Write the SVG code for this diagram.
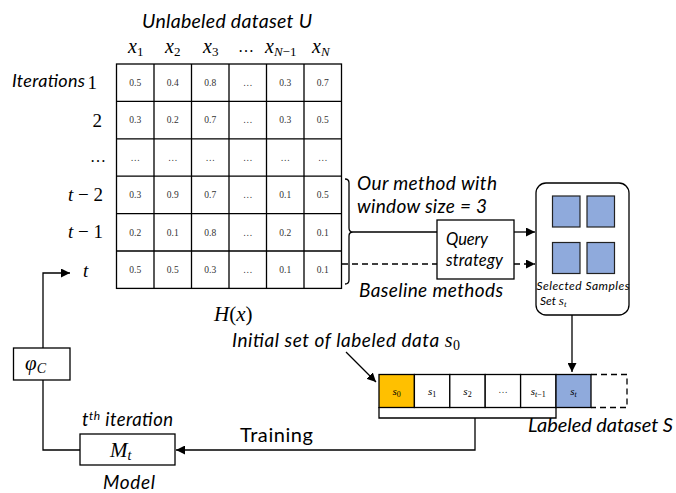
<svg xmlns="http://www.w3.org/2000/svg" width="676" height="493" viewBox="0 0 676 493">
<defs>
<style>
.ln{stroke:#000;stroke-width:1.3;fill:none}
.dash{stroke:#000;stroke-width:1.3;fill:none;stroke-dasharray:6 4}
.box{stroke:#000;stroke-width:1.3;fill:#fff}
.cell{stroke:#000;stroke-width:1.3;fill:#fff}
.v{font-family:"Liberation Serif",serif;font-size:9.5px;text-anchor:middle;fill:#333}
.m{font-family:"Liberation Serif",serif;font-style:italic;fill:#000}
.mr{font-family:"Liberation Serif",serif;fill:#000}
.it{font-family:Lato,"Liberation Sans",sans-serif;font-style:italic;fill:#000}
.sv{font-family:"Liberation Serif",serif;font-style:italic;font-size:11px;text-anchor:middle;fill:#000}
</style>
<marker id="ah" viewBox="0 0 10 10" refX="10" refY="5" markerWidth="9" markerHeight="9" markerUnits="userSpaceOnUse" orient="auto">
<path d="M0,0 L10,5 L0,10 z" fill="#000"/>
</marker>
</defs>

<g id="title">
<text class="it" x="142" y="28" font-size="19.5" textLength="170" lengthAdjust="spacing">Unlabeled dataset U</text>
</g>

<g id="headers" class="m" font-size="20">
<text x="128" y="53">x<tspan font-style="normal" font-size="13" dy="3">1</tspan></text>
<text x="165" y="53">x<tspan font-style="normal" font-size="13" dy="3">2</tspan></text>
<text x="203" y="53">x<tspan font-style="normal" font-size="13" dy="3">3</tspan></text>
<text x="238" y="52" font-style="normal" font-size="16">…</text>
<text x="265" y="53">x<tspan font-size="13" dy="3">N</tspan><tspan font-style="normal" font-size="13">−1</tspan></text>
<text x="312" y="53">x<tspan font-size="13" dy="3">N</tspan></text>
</g>

<g id="rowlabels">
<text class="it" x="12" y="87" font-size="18" textLength="73" lengthAdjust="spacing">Iterations</text>
<text class="mr" x="97" y="89" text-anchor="end" font-size="19">1</text>
<text class="mr" x="102" y="127" text-anchor="end" font-size="19">2</text>
<text class="mr" x="106" y="162" text-anchor="end" font-size="16">…</text>
<text class="m" x="103" y="201" text-anchor="end" font-size="19">t <tspan font-style="normal">− 2</tspan></text>
<text class="m" x="103" y="238" text-anchor="end" font-size="19">t <tspan font-style="normal">− 1</tspan></text>
<text class="m" x="83" y="277" font-size="19">t</text>
</g>

<g id="table">
<rect class="cell" x="116.5" y="64" width="225" height="224.4"/>
<path class="ln" d="M154,64V288.4M191.5,64V288.4M229,64V288.4M266.5,64V288.4M304,64V288.4M116.5,101.4H341.5M116.5,138.8H341.5M116.5,176.2H341.5M116.5,213.6H341.5M116.5,251H341.5"/>
<g class="v">
<text x="135.2" y="86">0.5</text><text x="172.7" y="86">0.4</text><text x="210.2" y="86">0.8</text><text x="247.7" y="86">…</text><text x="285.2" y="86">0.3</text><text x="322.7" y="86">0.7</text>
<text x="135.2" y="123.4">0.3</text><text x="172.7" y="123.4">0.2</text><text x="210.2" y="123.4">0.7</text><text x="247.7" y="123.4">…</text><text x="285.2" y="123.4">0.3</text><text x="322.7" y="123.4">0.5</text>
<text x="135.2" y="160.8">…</text><text x="172.7" y="160.8">…</text><text x="210.2" y="160.8">…</text><text x="247.7" y="160.8">…</text><text x="285.2" y="160.8">…</text><text x="322.7" y="160.8">…</text>
<text x="135.2" y="198.2">0.3</text><text x="172.7" y="198.2">0.9</text><text x="210.2" y="198.2">0.7</text><text x="247.7" y="198.2">…</text><text x="285.2" y="198.2">0.1</text><text x="322.7" y="198.2">0.5</text>
<text x="135.2" y="235.6">0.2</text><text x="172.7" y="235.6">0.1</text><text x="210.2" y="235.6">0.8</text><text x="247.7" y="235.6">…</text><text x="285.2" y="235.6">0.2</text><text x="322.7" y="235.6">0.1</text>
<text x="135.2" y="273">0.5</text><text x="172.7" y="273">0.5</text><text x="210.2" y="273">0.3</text><text x="247.7" y="273">…</text><text x="285.2" y="273">0.1</text><text x="322.7" y="273">0.1</text>
</g>
</g>

<g id="hx">
<text class="m" x="214" y="321" font-size="21">H<tspan font-style="normal">(</tspan>x<tspan font-style="normal">)</tspan></text>
</g>

<g id="connectors">
<path class="ln" d="M345,179 Q349,179 349,183 L349,228 Q349,232 353,232 Q349,232 349,236 L349,280 Q349,284 345,284"/>
<path class="ln" d="M353,232 H437"/>
<path class="ln" d="M514,232 H535" marker-end="url(#ah)"/>
<path class="dash" d="M342,264 H437"/>
<path class="dash" d="M514,264 H535" marker-end="url(#ah)"/>
<path class="ln" d="M572,315 V372" marker-end="url(#ah)"/>
<path class="ln" d="M346,352 L376,382" marker-end="url(#ah)"/>
<path class="ln" d="M379,407 V418 H556 V407 M475,418 V450 H176" marker-end="url(#ah)"/>
<path class="ln" d="M43,380 V450 H80"/>
<path class="ln" d="M43,348 V273 H70" marker-end="url(#ah)"/>
</g>

<g id="labels">
<text class="it" x="357" y="190" font-size="19" textLength="140" lengthAdjust="spacing">Our method with</text>
<text class="it" x="357" y="213" font-size="19" textLength="130" lengthAdjust="spacing">window size = 3</text>
<text class="it" x="359" y="297" font-size="19" textLength="144" lengthAdjust="spacing">Baseline methods</text>
</g>

<g id="query">
<rect class="box" x="437" y="220" width="77" height="59"/>
<text class="it" x="446" y="245" font-size="16.5" textLength="42" lengthAdjust="spacing">Query</text>
<text class="it" x="446" y="266" font-size="16.5" textLength="57" lengthAdjust="spacing">strategy</text>
</g>

<g id="selected">
<rect class="box" x="536" y="183" width="93" height="132" rx="10"/>
<g fill="#8FAADC" stroke="#222" stroke-width="1.2">
<rect x="552.5" y="196" width="27.5" height="31"/>
<rect x="587" y="196" width="27.5" height="31"/>
<rect x="552.5" y="242.5" width="27.5" height="31"/>
<rect x="587" y="242.5" width="27.5" height="31"/>
</g>
<text class="it" x="536.5" y="290" font-size="12" textLength="93" lengthAdjust="spacing">Selected Samples</text>
<text class="it" x="540" y="305" font-size="12">Set <tspan font-family="Liberation Serif" font-size="13">s</tspan><tspan font-family="Liberation Serif" font-size="9" dy="2">t</tspan></text>
</g>

<g id="initial">
<text class="it" x="232" y="347" font-size="19" textLength="228" lengthAdjust="spacing">Initial set of labeled data <tspan font-family="Liberation Serif" font-size="20">s</tspan><tspan font-family="Liberation Serif" font-style="normal" font-size="14" dy="3">0</tspan></text>
</g>

<g id="labeled">
<rect x="379" y="374.5" width="35.4" height="33" fill="#FFC000" stroke="#000" stroke-width="1.3"/>
<rect class="cell" x="414.4" y="374.5" width="35.4" height="33"/>
<rect class="cell" x="449.8" y="374.5" width="35.4" height="33"/>
<rect class="cell" x="485.2" y="374.5" width="35.4" height="33"/>
<rect class="cell" x="520.6" y="374.5" width="35.4" height="33"/>
<rect x="556" y="374.5" width="35" height="33" fill="#8FAADC" stroke="#000" stroke-width="1.3"/>
<path class="dash" d="M591,374.5 H627 V407.5 H591" stroke-dasharray="4 3"/>
<text class="sv" x="396.7" y="395">s<tspan font-style="normal" font-size="8" dy="2">0</tspan></text>
<text class="sv" x="432.1" y="395">s<tspan font-style="normal" font-size="8" dy="2">1</tspan></text>
<text class="sv" x="467.5" y="395">s<tspan font-style="normal" font-size="8" dy="2">2</tspan></text>
<text class="v" x="502.9" y="393">…</text>
<text class="sv" x="538.3" y="395">s<tspan font-size="8" dy="2">t</tspan><tspan font-style="normal" font-size="8">−1</tspan></text>
<text class="sv" x="573.5" y="395">s<tspan font-size="8" dy="2">t</tspan></text>
<text class="it" x="528" y="432" font-size="20" textLength="145" lengthAdjust="spacing">Labeled dataset S</text>
</g>

<g id="training">
<text x="240" y="442" font-family="Lato,'Liberation Sans',sans-serif" font-size="20" textLength="73" lengthAdjust="spacing">Training</text>
</g>

<g id="model">
<rect class="box" x="80" y="434" width="95" height="31"/>
<text class="m" x="110" y="457" font-size="21">M<tspan font-size="14" dy="3">t</tspan></text>
<text class="it" x="82" y="426" font-size="18.5" textLength="91" lengthAdjust="spacing">t<tspan font-size="12" dy="-6">th</tspan><tspan dy="6"> iteration</tspan></text>
<text class="it" x="103" y="489" font-size="19" textLength="52" lengthAdjust="spacing">Model</text>
</g>

<g id="phi">
<rect class="box" x="13.5" y="348" width="56.5" height="32"/>
<text class="m" x="25" y="370" font-size="21">φ<tspan font-size="14" dy="3">C</tspan></text>
</g>
</svg>
